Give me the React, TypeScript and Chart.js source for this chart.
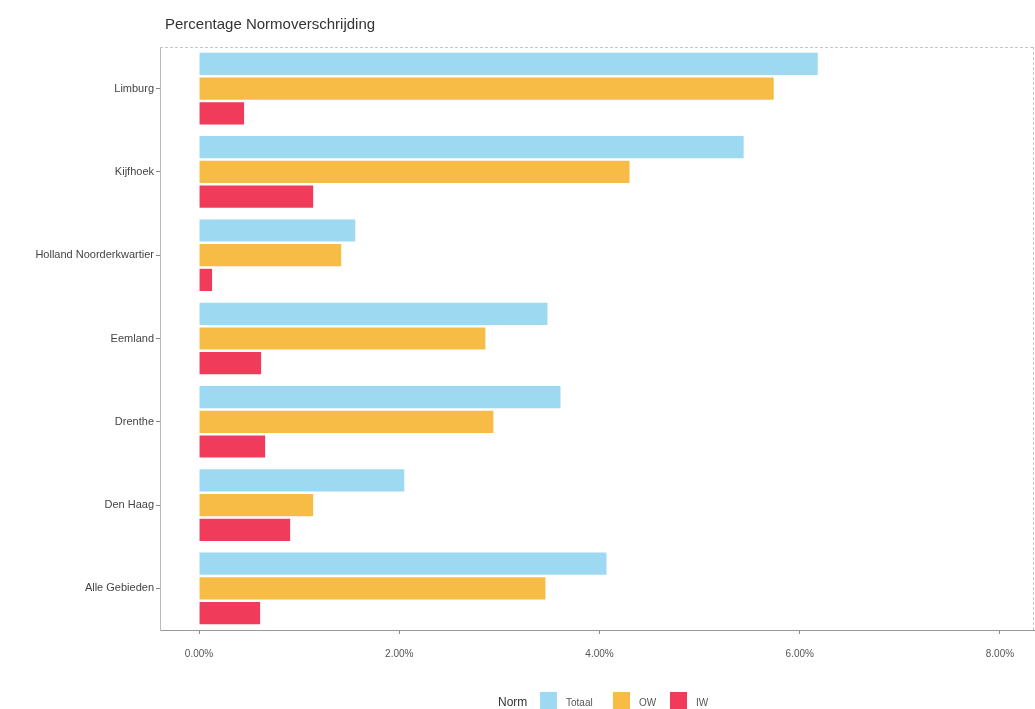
import React, { useEffect, useRef } from "react";
import { Chart, registerables } from "chart.js";

Chart.register(...registerables);

const categories = [
  "Limburg",
  "Kijfhoek",
  "Holland Noorderkwartier",
  "Eemland",
  "Drenthe",
  "Den Haag",
  "Alle Gebieden",
];
const totaal = [6.18, 5.44, 1.56, 3.48, 3.61, 2.05, 4.07];
const ow = [5.74, 4.3, 1.42, 2.86, 2.94, 1.14, 3.46];
const iw = [0.45, 1.14, 0.13, 0.62, 0.66, 0.91, 0.61];
const xTicks = [0, 2, 4, 6, 8];
const seriesNames = ["Totaal", "OW", "IW"];
const seriesColors = ["rgba(140, 210, 238, 0.85)", "#f6bc45", "#f03c5a"];
const legendTitle = "Norm";
const chartTitle = "Percentage Normoverschrijding";

const FONT = "'Liberation Sans', Arial, sans-serif";

const framePlugin = {
  id: "frame",
  afterDraw(chart: any) {
    const { ctx, chartArea } = chart;
    ctx.save();
    ctx.strokeStyle = "#c8c8c8";
    ctx.lineWidth = 1;
    ctx.setLineDash([3, 2]);
    ctx.beginPath();
    ctx.moveTo(chartArea.left, chartArea.top + 0.5);
    ctx.lineTo(chartArea.right, chartArea.top + 0.5);
    ctx.moveTo(chartArea.right - 1.5, chartArea.top);
    ctx.lineTo(chartArea.right - 1.5, chartArea.bottom);
    ctx.stroke();
    ctx.setLineDash([]);
    // title
    ctx.fillStyle = "#333333";
    ctx.font = `15px ${FONT}`;
    ctx.textBaseline = "alphabetic";
    ctx.textAlign = "left";
    ctx.fillText(chartTitle, chartArea.left + 5, 29);
    // legend
    const y = 706;
    let x = 498;
    ctx.font = `12px ${FONT}`;
    ctx.fillStyle = "#333333";
    ctx.fillText(legendTitle, x, y);
    x += 42;
    ctx.font = `10px ${FONT}`;
    seriesNames.forEach((n, i) => {
      ctx.fillStyle = seriesColors[i];
      ctx.fillRect(x, 692, 17, 17);
      ctx.fillStyle = "#555555";
      ctx.fillText(n, x + 26, y);
      x += i === 0 ? 73 : 57;
    });
    ctx.restore();
  },
};

export default function App() {
  const ref = useRef<HTMLCanvasElement | null>(null);
  useEffect(() => {
    if (!ref.current) return;
    const chart = new Chart(ref.current, {
      type: "bar",
      data: {
        labels: categories,
        datasets: [
          { label: seriesNames[0], data: totaal, backgroundColor: seriesColors[0] },
          { label: seriesNames[1], data: ow, backgroundColor: seriesColors[1] },
          { label: seriesNames[2], data: iw, backgroundColor: seriesColors[2] },
        ],
      },
      options: {
        indexAxis: "y",
        animation: false,
        responsive: false,
        maintainAspectRatio: false,
        layout: { padding: { top: 47, right: 0, bottom: 35, left: 0 } },
        datasets: { bar: { barPercentage: 0.9, categoryPercentage: 0.89 } } as any,
        plugins: {
          legend: { display: false },
          title: { display: false },
          tooltip: { enabled: false },
        },
        scales: {
          x: {
            type: "linear",
            min: -0.39,
            max: 8.35,
            afterBuildTicks: (axis: any) => {
              axis.ticks = xTicks.map((v) => ({ value: v }));
            },
            grid: {
              display: true,
              drawOnChartArea: false,
              drawTicks: true,
              tickLength: 4,
              color: "#888888",
            },
            border: { display: true, color: "#999999" },
            ticks: {
              color: "#555555",
              font: { size: 10, family: FONT },
              padding: 14,
              callback: (v: any) => Number(v).toFixed(2) + "%",
            },
          },
          y: {
            grid: {
              display: true,
              drawOnChartArea: false,
              drawTicks: true,
              tickLength: 4,
              offset: false,
              color: "#888888",
            },
            border: { display: true, color: "#bbbbbb" },
            ticks: {
              color: "#444444",
              font: { size: 11, family: FONT },
              padding: 2,
            },
            afterFit: (axis: any) => {
              axis.width = 160;
            },
          },
        },
      },
      plugins: [framePlugin],
    });
    return () => chart.destroy();
  }, []);
  return (
    <div style={{ position: "fixed", left: 0, top: 0, width: 1035, height: 709, background: "#fff" }}>
      <canvas ref={ref} width={1035} height={709} style={{ display: "block" }} />
    </div>
  );
}
